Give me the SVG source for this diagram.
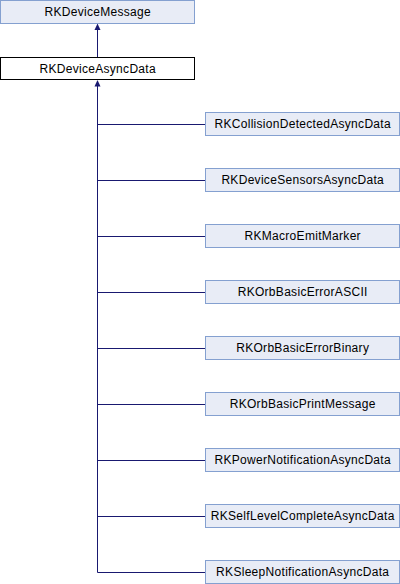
<svg xmlns="http://www.w3.org/2000/svg" width="400" height="584" viewBox="0 0 400 584">
<style>
.n rect{fill:#e8ecf6;stroke:#84a0d0;stroke-width:1}
.n.cur rect{fill:#ffffff;stroke:#000000}
.n text{font-family:"Liberation Sans",Arial,sans-serif;font-size:12px;letter-spacing:0.3px;fill:#000000;text-anchor:middle}
.e path{fill:none;stroke:#191970;stroke-width:1}
.e polygon{fill:#191970;stroke:none}
</style>
<rect width="400" height="584" fill="#ffffff"/>
<g id="edges" class="e">
<path d="M97.5,29 V57"/>
<polygon points="97.5,23.5 94.5,30 100.5,30"/>
<path d="M97.5,86 V572.5"/>
<polygon points="97.5,80 94.5,86.5 100.5,86.5"/>
<path d="M97.5,124.5 H205"/>
<path d="M97.5,180.5 H205"/>
<path d="M97.5,236.5 H205"/>
<path d="M97.5,292.5 H205"/>
<path d="M97.5,348.5 H205"/>
<path d="M97.5,404.5 H205"/>
<path d="M97.5,460.5 H205"/>
<path d="M97.5,516.5 H205"/>
<path d="M97.5,572.5 H205"/>
</g>
<g id="RKDeviceMessage" class="n"><rect x="0.5" y="0.5" width="194" height="23"/><text x="97.7" y="16">RKDeviceMessage</text></g>
<g id="RKDeviceAsyncData" class="n cur"><rect x="0.5" y="57.5" width="194" height="22"/><text x="97.7" y="73">RKDeviceAsyncData</text></g>
<g id="RKCollisionDetectedAsyncData" class="n"><rect x="205.5" y="112.5" width="194" height="23"/><text x="302.7" y="128">RKCollisionDetectedAsyncData</text></g>
<g id="RKDeviceSensorsAsyncData" class="n"><rect x="205.5" y="168.5" width="194" height="23"/><text x="302.7" y="184">RKDeviceSensorsAsyncData</text></g>
<g id="RKMacroEmitMarker" class="n"><rect x="205.5" y="224.5" width="194" height="23"/><text x="302.7" y="240">RKMacroEmitMarker</text></g>
<g id="RKOrbBasicErrorASCII" class="n"><rect x="205.5" y="280.5" width="194" height="23"/><text x="302.7" y="296">RKOrbBasicErrorASCII</text></g>
<g id="RKOrbBasicErrorBinary" class="n"><rect x="205.5" y="336.5" width="194" height="23"/><text x="302.7" y="352">RKOrbBasicErrorBinary</text></g>
<g id="RKOrbBasicPrintMessage" class="n"><rect x="205.5" y="392.5" width="194" height="23"/><text x="302.7" y="408">RKOrbBasicPrintMessage</text></g>
<g id="RKPowerNotificationAsyncData" class="n"><rect x="205.5" y="448.5" width="194" height="23"/><text x="302.7" y="464">RKPowerNotificationAsyncData</text></g>
<g id="RKSelfLevelCompleteAsyncData" class="n"><rect x="205.5" y="504.5" width="194" height="23"/><text x="302.7" y="520">RKSelfLevelCompleteAsyncData</text></g>
<g id="RKSleepNotificationAsyncData" class="n"><rect x="205.5" y="560.5" width="194" height="23"/><text x="302.7" y="576">RKSleepNotificationAsyncData</text></g>
</svg>
